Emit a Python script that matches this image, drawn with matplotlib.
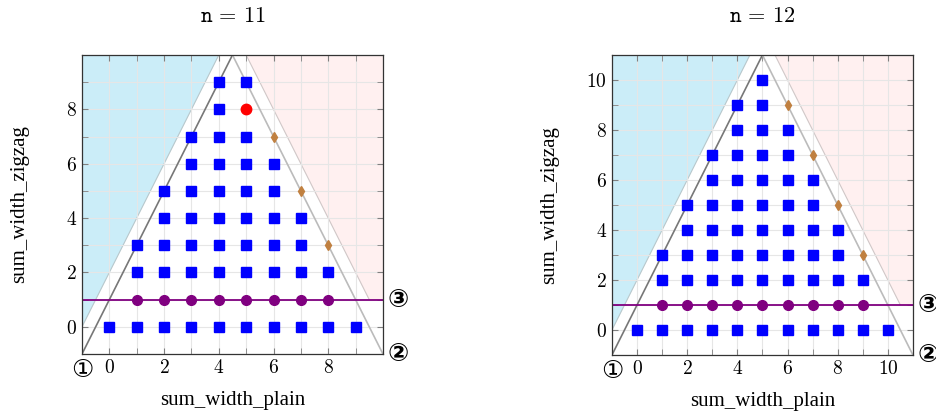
import matplotlib
matplotlib.use("Agg")
import matplotlib.pyplot as plt
from matplotlib.ticker import MultipleLocator

plt.rcParams["mathtext.fontset"] = "cm"
plt.rcParams["font.family"] = "serif"
plt.rcParams["font.serif"] = ["cmr10"]
plt.rcParams["axes.formatter.use_mathtext"] = True

# --- data: n = 11 ---
n_a = 11
ticks_a = [0, 2, 4, 6, 8]
sq_a_rows = {
    0: [0, 1, 2, 3, 4, 5, 6, 7, 8, 9],
    2: [1, 2, 3, 4, 5, 6, 7, 8],
    3: [1, 2, 3, 4, 5, 6, 7],
    4: [2, 3, 4, 5, 6, 7],
    5: [2, 3, 4, 5, 6],
    6: [3, 4, 5, 6],
    7: [3, 4, 5],
    8: [4],
    9: [4, 5],
}
circ_a_x = [1, 2, 3, 4, 5, 6, 7, 8]
circ_a_y = [1, 1, 1, 1, 1, 1, 1, 1]
dia_a_x = [8, 7, 6]
dia_a_y = [3, 5, 7]
red_a_x = [5]
red_a_y = [8]

# --- data: n = 12 ---
n_b = 12
ticks_b = [0, 2, 4, 6, 8, 10]
sq_b_rows = {
    0: [0, 1, 2, 3, 4, 5, 6, 7, 8, 9, 10],
    2: [1, 2, 3, 4, 5, 6, 7, 8, 9],
    3: [1, 2, 3, 4, 5, 6, 7, 8],
    4: [2, 3, 4, 5, 6, 7, 8],
    5: [2, 3, 4, 5, 6, 7],
    6: [3, 4, 5, 6, 7],
    7: [3, 4, 5, 6],
    8: [4, 5, 6],
    9: [4, 5],
    10: [5],
}
circ_b_x = [1, 2, 3, 4, 5, 6, 7, 8, 9]
circ_b_y = [1, 1, 1, 1, 1, 1, 1, 1, 1]
dia_b_x = [9, 8, 7, 6]
dia_b_y = [3, 5, 7, 9]
red_b_x = []
red_b_y = []


def draw(ax, n, ticks, sq_rows, cx, cy, dx, dy, rx, ry):
    lo, hi = -1, n - 1
    # regions
    ax.fill([lo, lo, (hi - 2) / 2, lo], [0, hi, hi, 0], color="#cbedf8", lw=0, zorder=0.1)
    ax.plot([lo, (hi - 2) / 2], [0, hi], color="#b8c8cc", lw=0.8, zorder=0.2)
    xp = (2 * (n - 1) - hi) / 2
    ax.fill([xp, hi, hi, (2 * (n - 1) - 1) / 2], [hi, hi, 1, 1], color="#fff0f0", lw=0, zorder=0.1)
    ax.plot([xp, (2 * (n - 1) - 1) / 2], [hi, 1], color="#d0c8c8", lw=0.8, zorder=0.2)
    # boundary lines
    ax.plot([lo, (hi - 1) / 2], [lo, hi], color="#777777", lw=1.2, zorder=1)
    ax.plot([hi, (hi - 1) / 2], [lo, hi], color="#bbbbbb", lw=1.2, zorder=1)
    ax.axhline(1, color="#800080", lw=1.3, zorder=1.5)

    sx = [x for y in sq_rows for x in sq_rows[y]]
    sy = [y for y in sq_rows for x in sq_rows[y]]
    ax.plot(sx, sy, "s", color="#0000ff", ms=7.5, ls="none", zorder=3)
    ax.plot(cx, cy, "o", color="#800080", ms=7, ls="none", zorder=3)
    ax.plot(dx, dy, "d", color="#c08040", ms=5.5, ls="none", zorder=3)
    ax.plot(rx, ry, "o", color="#ff0000", ms=7.5, ls="none", zorder=3)

    ax.set_xlim(lo, hi)
    ax.set_ylim(lo, hi)
    ax.set_xticks(ticks)
    ax.set_yticks(ticks)
    ax.xaxis.set_minor_locator(MultipleLocator(1))
    ax.yaxis.set_minor_locator(MultipleLocator(1))
    ax.set_axisbelow(True)
    ax.grid(True, which="both", color="#e6e6e6", lw=0.8)
    ax.tick_params(which="both", direction="in", top=True, right=True,
                   color="#808080", labelsize=14, length=4)
    for s in ax.spines.values():
        s.set_color("#333333")
        s.set_linewidth(0.9)
    ax.set_xlabel("sum_width_plain", family="Liberation Serif", fontsize=15, labelpad=10)
    ax.set_ylabel("sum_width_zigzag", family="Liberation Serif", fontsize=15)
    ax.yaxis.set_label_coords(-0.177, 0.5)
    ax.set_title(r"$\mathtt{n}\,=\,%d$" % n, fontsize=16, pad=24)

    ckw = dict(fontsize=18, family="DejaVu Sans", annotation_clip=False)
    ax.annotate("\u2460", (lo, lo), xytext=(0, -3), textcoords="offset points",
                ha="center", va="top", **ckw)
    ax.annotate("\u2461", (hi, lo), xytext=(3, 0), textcoords="offset points",
                ha="left", va="center", fontweight="bold", **ckw)
    ax.annotate("\u2462", (hi, 1), xytext=(3, 0), textcoords="offset points",
                ha="left", va="center", fontweight="bold", **ckw)


fig = plt.figure(figsize=(9.37, 4.18), dpi=100)
ax1 = fig.add_axes([0.0875, 0.1531, 0.3212, 0.7153])
ax2 = fig.add_axes([0.6531, 0.1507, 0.3212, 0.7177])
draw(ax1, n_a, ticks_a, sq_a_rows, circ_a_x, circ_a_y, dia_a_x, dia_a_y, red_a_x, red_a_y)
draw(ax2, n_b, ticks_b, sq_b_rows, circ_b_x, circ_b_y, dia_b_x, dia_b_y, red_b_x, red_b_y)

fig.savefig("out.png", dpi=100)
